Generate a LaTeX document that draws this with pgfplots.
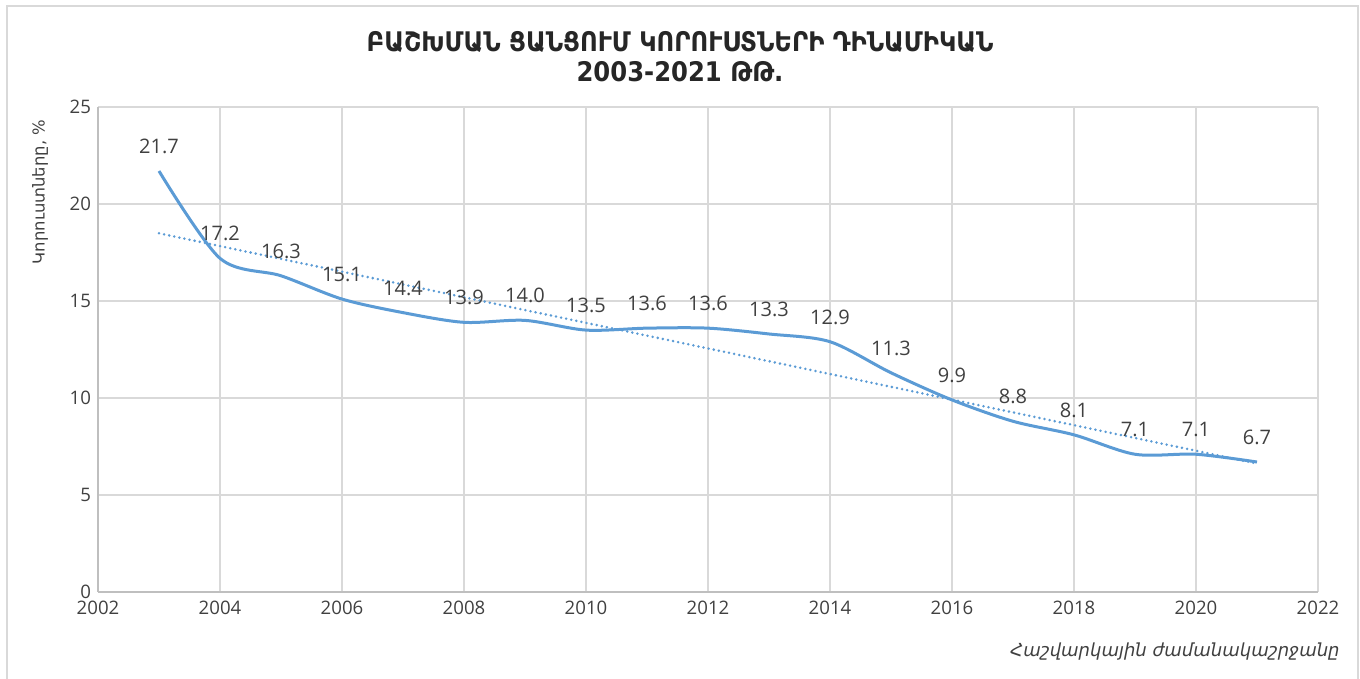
\documentclass[border=0pt]{standalone}
\usepackage{fontspec}
\usepackage{pgfplots}
\pgfplotsset{compat=1.18}
\setmainfont{Open Sans}
\newfontfamily\arm{DejaVu Sans}
\newfontfamily\armcond{DejaVu Sans Condensed}
\definecolor{lineblue}{HTML}{5B9BD5}
\definecolor{txt}{HTML}{404040}
\definecolor{gridc}{HTML}{D9D9D9}
\definecolor{axc}{HTML}{BFBFBF}
\begin{document}
\begin{tikzpicture}[x=1pt,y=1pt]
\path[use as bounding box] (0,0) rectangle (680,339.5);
\draw[gridc,line width=1pt] (3.5,-5) rectangle (679,336.5);
\begin{axis}[
    at={(49pt,43.5pt)}, anchor=south west,
    scale only axis,
    width=610pt, height=242.5pt,
    xmin=2002, xmax=2022, ymin=0, ymax=25,
    xtick={2002,2004,...,2022},
    ytick={0,5,...,25},
    xticklabel style={/pgf/number format/1000 sep={}},
    major tick length=0pt,
    grid=major,
    grid style={gridc, line width=0.6pt},
    axis line style={axc, line width=0.8pt},
    axis x line*=bottom, axis y line*=left,
    ticklabel style={font=\fontsize{9.3}{10}\selectfont, text=txt},
    xticklabel style={yshift=-1pt},
    /pgf/number format/assume math mode=true,
    clip=false,
]
\addplot[lineblue, line width=1.5pt, smooth, tension=0.5,
    nodes near coords,
    nodes near coords style={font=\fontsize{10}{11}\selectfont, text=txt, anchor=south, yshift=4.5pt,
        /pgf/number format/.cd, fixed, fixed zerofill, precision=1},
] coordinates {
(2003,21.7) (2004,17.2) (2005,16.3) (2006,15.1) (2007,14.4) (2008,13.9)
(2009,14.0) (2010,13.5) (2011,13.6) (2012,13.6) (2013,13.3) (2014,12.9)
(2015,11.3) (2016,9.9) (2017,8.8) (2018,8.1) (2019,7.1) (2020,7.1) (2021,6.7)
};
% linear trendline
\addplot[lineblue, line width=1.4pt, dash pattern=on 0pt off 2.6pt, line cap=round]
coordinates {(2003,18.49) (2021,6.62)};
\end{axis}
\node[font=\armcond\bfseries\fontsize{13.5}{15}\selectfont, text=black!85, align=center] at (340,311)
  {ԲԱՇԽՄԱՆ ՑԱՆՑՈՒՄ ԿՈՐՈՒՍՏՆԵՐԻ ԴԻՆԱՄԻԿԱՆ\\2003-2021 ԹԹ.};
\node[font=\arm\fontsize{8.2}{10}\selectfont, text=txt, rotate=90] at (20,243.5) {Կորուստները, \%};
\node[font=\arm\itshape\fontsize{9}{10}\selectfont, text=txt, anchor=east, inner sep=0pt] at (670,13.5) {Հաշվարկային ժամանակաշրջանը};
\end{tikzpicture}
\end{document}
